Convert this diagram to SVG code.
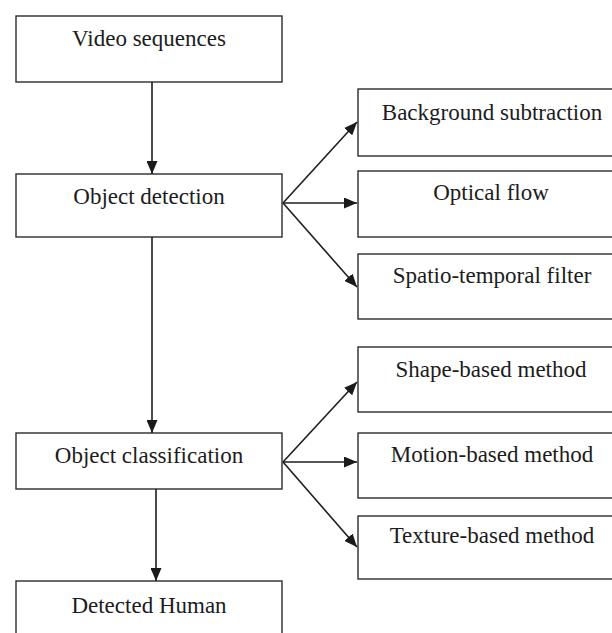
<svg xmlns="http://www.w3.org/2000/svg" width="612" height="633" viewBox="0 0 612 633">
  <style>
    .box { fill: #ffffff; stroke: #2b2b2b; stroke-width: 1.4; }
    .lbl { font-family: "Liberation Serif", "Times New Roman", serif; font-size: 23px; fill: #1c1c1c; text-anchor: middle; }
    .edge { fill: none; stroke: #1e1e1e; stroke-width: 1.6; }
  </style>
  <defs>
    <marker id="arrow" viewBox="0 0 13 11" refX="13" refY="5.5" markerWidth="13" markerHeight="11" markerUnits="userSpaceOnUse" orient="auto">
      <path d="M0,0 L13,5.5 L0,11 Z" fill="#1a1a1a"/>
    </marker>
  </defs>
  <rect width="612" height="633" fill="#ffffff"/>

  <!-- main pipeline -->
  <g id="video-sequences">
    <rect class="box" x="16" y="16" width="266" height="66"/>
    <text class="lbl" x="149" y="46">Video sequences</text>
  </g>
  <g id="object-detection">
    <rect class="box" x="16" y="174" width="266" height="63"/>
    <text class="lbl" x="149" y="204">Object detection</text>
  </g>
  <g id="object-classification">
    <rect class="box" x="16" y="433" width="266" height="56"/>
    <text class="lbl" x="149" y="463">Object classification</text>
  </g>
  <g id="detected-human">
    <rect class="box" x="16" y="581" width="266" height="60"/>
    <text class="lbl" x="149" y="613">Detected Human</text>
  </g>

  <!-- detection techniques -->
  <g id="background-subtraction">
    <rect class="box" x="358" y="89" width="270" height="67"/>
    <text class="lbl" x="492" y="120">Background subtraction</text>
  </g>
  <g id="optical-flow">
    <rect class="box" x="358" y="171" width="270" height="66"/>
    <text class="lbl" x="491" y="200">Optical flow</text>
  </g>
  <g id="spatio-temporal-filter">
    <rect class="box" x="358" y="254" width="270" height="65"/>
    <text class="lbl" x="492" y="283">Spatio-temporal filter</text>
  </g>

  <!-- classification methods -->
  <g id="shape-based-method">
    <rect class="box" x="358" y="347" width="270" height="65"/>
    <text class="lbl" x="491" y="377">Shape-based method</text>
  </g>
  <g id="motion-based-method">
    <rect class="box" x="358" y="433" width="270" height="65"/>
    <text class="lbl" x="492" y="462">Motion-based method</text>
  </g>
  <g id="texture-based-method">
    <rect class="box" x="358" y="516" width="270" height="63"/>
    <text class="lbl" x="492" y="543">Texture-based method</text>
  </g>

  <!-- connectors -->
  <g id="connectors">
    <line class="edge" x1="152" y1="82" x2="152" y2="174" marker-end="url(#arrow)"/>
    <line class="edge" x1="152" y1="237" x2="152" y2="433" marker-end="url(#arrow)"/>
    <line class="edge" x1="156" y1="489" x2="156" y2="581" marker-end="url(#arrow)"/>

    <line class="edge" x1="283" y1="203" x2="357" y2="122" marker-end="url(#arrow)"/>
    <line class="edge" x1="283" y1="203" x2="357" y2="203" marker-end="url(#arrow)"/>
    <line class="edge" x1="283" y1="203" x2="357" y2="287" marker-end="url(#arrow)"/>

    <line class="edge" x1="283" y1="462" x2="357" y2="382" marker-end="url(#arrow)"/>
    <line class="edge" x1="283" y1="462" x2="357" y2="462" marker-end="url(#arrow)"/>
    <line class="edge" x1="283" y1="462" x2="357" y2="547" marker-end="url(#arrow)"/>
  </g>
</svg>
